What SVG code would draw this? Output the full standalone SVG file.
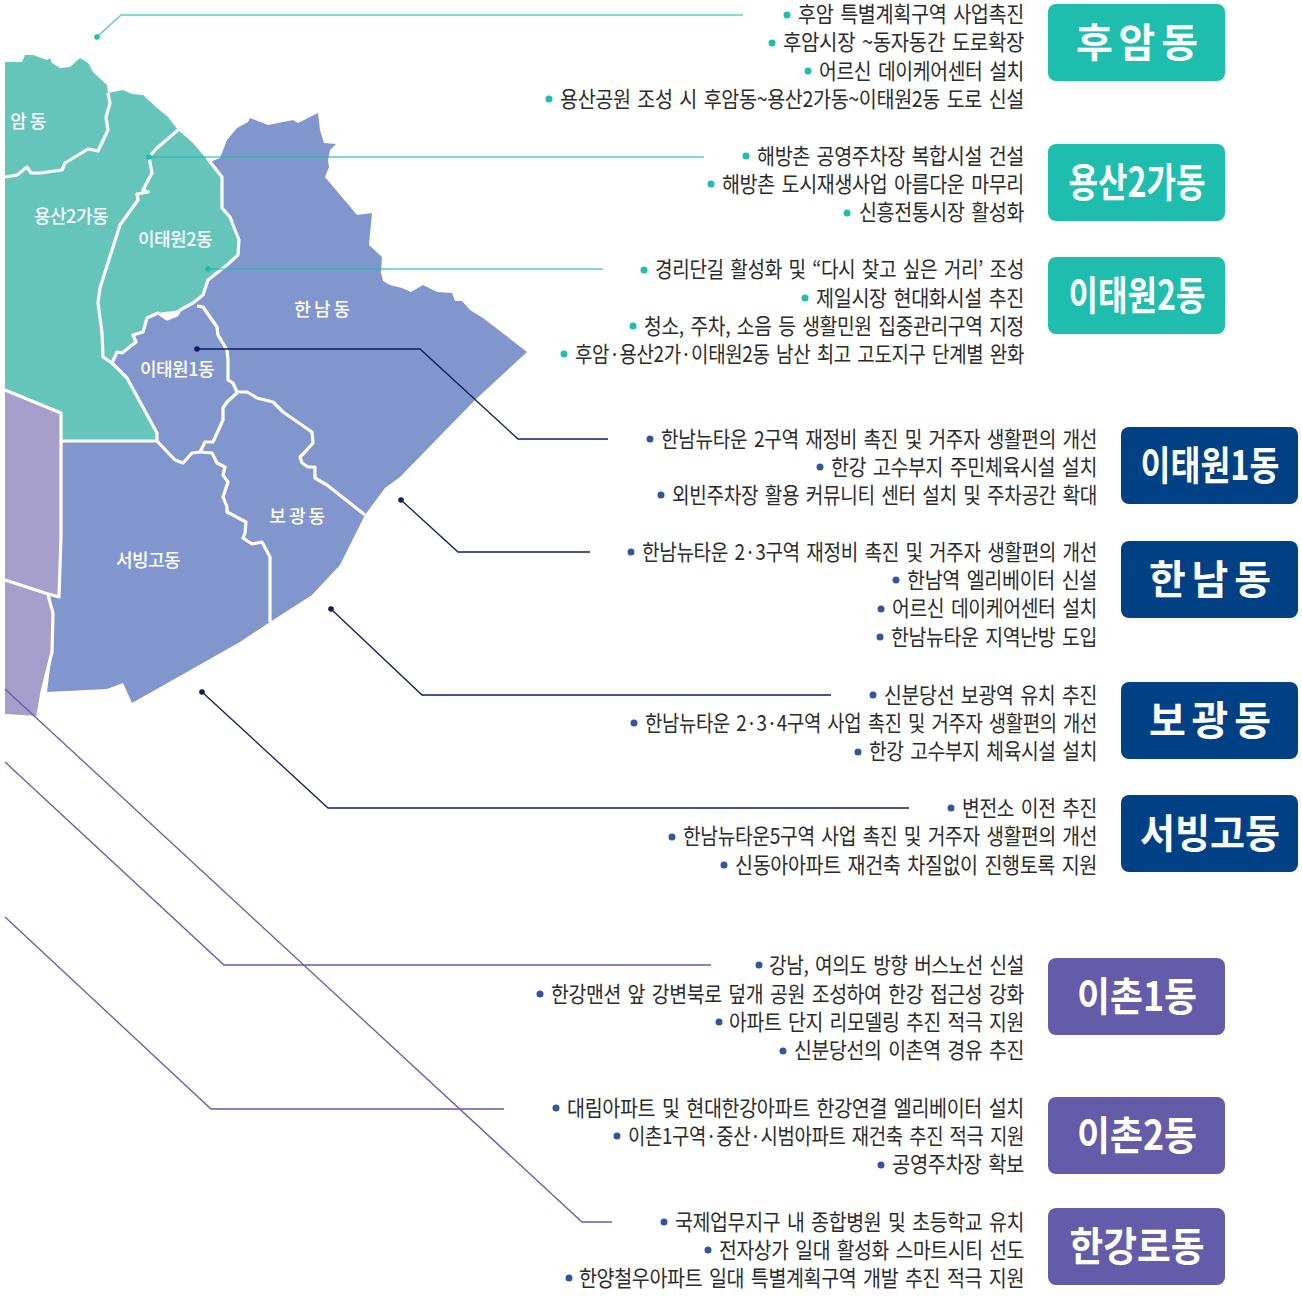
<svg xmlns="http://www.w3.org/2000/svg" width="1302" height="1300" viewBox="0 0 1302 1300">
<style>
text{font-family:"Noto Sans CJK KR","Noto Sans",sans-serif}
.t{font-size:22px;fill:#2b2b2b;letter-spacing:-.4px;word-spacing:3px}
.b{font-size:40px;font-weight:700;fill:#fff;text-anchor:middle}
.m{font-size:18px;font-weight:500;fill:#fff;text-anchor:middle;letter-spacing:-.5px}
.bd{fill:none;stroke:#fff;stroke-width:3.2;stroke-linejoin:round}
.lt{fill:none;stroke:#1ebdae;stroke-width:1.5;opacity:.75}
.ln{fill:none;stroke:#0a1f5c;stroke-width:1.3}
.lp{fill:none;stroke:#645ca9;stroke-width:1.3}
.ct{fill:#1ebdae}.cn{fill:#0a1f5c}.cb{fill:#2f55a4}
</style>
<rect width="1302" height="1300" fill="#fff"/>
<g id="map">
<path fill="#66c5ba" d="M5 62L22 62L25 55L33 55L47 60L50 58L52 63L60 68L70 67L80 58L88 63L93 72L107 85L108 93L123 90L132 94L143 95L157 108L168 117L178 130L193 143L210 163L222 177L222 208L230 217L239 240L238 255L227 265L210 277L205 292L197 307L180 310L158 313L136 342L112 363L127 378L157 433L157 441L61 441L61 413L5 390Z"/>
<path fill="#8296ce" d="M220 158L227 140L237 128L248 122L250 118L268 125L293 120L298 123L318 113L320 130L324 143L336 144L330 150L328 160L329 167L325 177L357 215L372 213L369 245L382 257L381 273L383 281L390 285L402 288L411 292L423 285L437 292L452 293L455 301L462 301L470 310L483 318L527 352L475 400L400 477L385 488L365 515L340 565L312 595L270 622L240 642L132 703L123 683L107 689L47 692L52 652L53 613L48 595L59 597L61 537L61 441L157 441L157 433L127 378L112 362L117 352L122 353L136 342L133 335L143 332L147 318L158 313L167 319L177 315L180 310L193 303L203 295L208 280L227 265L238 255L239 240L230 217L222 208L222 177L210 162Z"/>
<path fill="#a69fcc" d="M5 390L61 413L61 537L59 597L48 595L53 613L52 652L42 692L38 716L5 714Z"/>
<path class="bd" d="M5 177L17 175L27 167L31 173L40 173L62 170L65 163L88 149L98 151L108 130L106 117L110 103L108 93"/>
<path class="bd" d="M178 130L157 148L149 157L152 173L143 190L148 192L137 194L138 200L120 225L100 288L98 303L102 333L103 357L112 363L127 378L157 433V441H61"/>
<path class="bd" d="M112 363L117 352L122 353L136 342L133 335L143 332L147 318L158 313L167 319L177 315L180 310L193 303L203 295L208 280L227 265L238 255L239 240L230 217L222 208L222 177L207 158"/>
<path class="bd" d="M197 306L203 307L217 327L218 335L227 350L228 360L228 380L233 383L237 392L247 392L257 398L273 402L283 412L312 432L313 443L305 452L300 457L302 463L308 467L315 467L315 478L327 485L365 515"/>
<path class="bd" d="M237 393L227 402L223 408L223 420L213 442L205 442L200 452L192 453L183 463L175 460L157 441"/>
<path class="bd" d="M200 452L212 453L217 463L225 467L223 475L228 482L223 497L227 507L227 512L246 522L245 533L243 538L252 544L262 542L270 557V622"/>
<path class="bd" d="M5 390L61 413V537L59 597L45 593L5 580M48 595L53 613L52 652L42 692L38 716"/>
<text class="m" x="28" y="128">암 동</text>
<text class="m" x="71" y="223">용산2가동</text>
<text class="m" x="175" y="246">이태원2동</text>
<text class="m" x="322" y="316">한 남 동</text>
<text class="m" x="177" y="376">이태원1동</text>
<text class="m" x="297" y="523">보 광 동</text>
<text class="m" x="148" y="567">서빙고동</text>
</g>
<g id="connectors">
<path class="lt" d="M97 37L121 15H743"/><circle class="ct" cx="97" cy="37" r="2.8"/>
<path class="lt" d="M149 157H704"/><circle class="ct" cx="149" cy="157" r="2.8"/>
<path class="lt" d="M208 269H603"/><circle class="ct" cx="208" cy="269" r="2.8"/>
<path class="ln" d="M197 349H420L518 439H608"/><circle class="cn" cx="197" cy="349" r="2.8"/>
<path class="ln" d="M401 500L458 552H590"/><circle class="cn" cx="401" cy="500" r="2.8"/>
<path class="ln" d="M331 609L422 695H831"/><circle class="cn" cx="331" cy="609" r="2.8"/>
<path class="ln" d="M202 692L328 808H909"/><circle class="cn" cx="202" cy="692" r="2.8"/>
<path class="lp" d="M5 762L224 965H711"/>
<path class="lp" d="M5 917L211 1109H504"/>
<path class="lp" d="M5 689L582 1222H612"/>
</g>
<g id="huam">
<rect x="1048" y="4" width="177" height="77" rx="8" fill="#1ebdae"/><text class="b" x="1137" y="57" textLength="122" lengthAdjust="spacing">후 암 동</text>
<circle class="ct" cx="787" cy="15" r="3.5"/><text class="t" x="798" y="22" textLength="226" lengthAdjust="spacingAndGlyphs">후암 특별계획구역 사업촉진</text>
<circle class="ct" cx="772" cy="43" r="3.5"/><text class="t" x="783" y="50" textLength="241" lengthAdjust="spacingAndGlyphs">후암시장 ~동자동간 도로확장</text>
<circle class="ct" cx="808" cy="71" r="3.5"/><text class="t" x="819" y="78.500" textLength="205" lengthAdjust="spacingAndGlyphs">어르신 데이케어센터 설치</text>
<circle class="ct" cx="549" cy="99" r="3.5"/><text class="t" x="560" y="106.500" textLength="464" lengthAdjust="spacingAndGlyphs">용산공원 조성 시 후암동~용산2가동~이태원2동 도로 신설</text>
</g>
<g id="yongsan2">
<rect x="1048" y="144" width="177" height="77" rx="8" fill="#1ebdae"/><text class="b" x="1137" y="197" textLength="137" lengthAdjust="spacingAndGlyphs">용산2가동</text>
<circle class="ct" cx="746" cy="156" r="3.5"/><text class="t" x="757" y="163.500" textLength="267" lengthAdjust="spacingAndGlyphs">해방촌 공영주차장 복합시설 건설</text>
<circle class="ct" cx="711" cy="184" r="3.5"/><text class="t" x="722" y="191.500" textLength="302" lengthAdjust="spacingAndGlyphs">해방촌 도시재생사업 아름다운 마무리</text>
<circle class="ct" cx="847" cy="213" r="3.5"/><text class="t" x="859" y="220" textLength="165" lengthAdjust="spacingAndGlyphs">신흥전통시장 활성화</text>
</g>
<g id="itaewon2">
<rect x="1048" y="257" width="177" height="77" rx="8" fill="#1ebdae"/><text class="b" x="1137" y="310" textLength="137" lengthAdjust="spacingAndGlyphs">이태원2동</text>
<circle class="ct" cx="644" cy="270" r="3.5"/><text class="t" x="655" y="277" textLength="369" lengthAdjust="spacingAndGlyphs">경리단길 활성화 및 “다시 찾고 싶은 거리’ 조성</text>
<circle class="ct" cx="805" cy="298" r="3.5"/><text class="t" x="816" y="305.500" textLength="208" lengthAdjust="spacingAndGlyphs">제일시장 현대화시설 추진</text>
<circle class="ct" cx="633" cy="326" r="3.5"/><text class="t" x="644" y="333.500" textLength="380" lengthAdjust="spacingAndGlyphs">청소, 주차, 소음 등 생활민원 집중관리구역 지정</text>
<circle class="ct" cx="564" cy="354" r="3.5"/><text class="t" x="575" y="362" textLength="449" lengthAdjust="spacingAndGlyphs">후암·용산2가·이태원2동 남산 최고 고도지구 단계별 완화</text>
</g>
<g id="itaewon1">
<rect x="1121" y="427" width="177" height="77" rx="8" fill="#004084"/><text class="b" x="1210" y="480" textLength="139" lengthAdjust="spacingAndGlyphs">이태원1동</text>
<circle class="cb" cx="650" cy="439" r="3.5"/><text class="t" x="661" y="446.500" textLength="436" lengthAdjust="spacingAndGlyphs">한남뉴타운 2구역 재정비 촉진 및 거주자 생활편의 개선</text>
<circle class="cb" cx="820" cy="467" r="3.5"/><text class="t" x="831" y="474.500" textLength="266" lengthAdjust="spacingAndGlyphs">한강 고수부지 주민체육시설 설치</text>
<circle class="cb" cx="661" cy="495" r="3.5"/><text class="t" x="672" y="502.500" textLength="425" lengthAdjust="spacingAndGlyphs">외빈주차장 활용 커뮤니티 센터 설치 및 주차공간 확대</text>
</g>
<g id="hannam">
<rect x="1121" y="541" width="177" height="77" rx="8" fill="#004084"/><text class="b" x="1210" y="594" textLength="122" lengthAdjust="spacing">한 남 동</text>
<circle class="cb" cx="631" cy="552" r="3.5"/><text class="t" x="642" y="559.500" textLength="455" lengthAdjust="spacingAndGlyphs">한남뉴타운 2·3구역 재정비 촉진 및 거주자 생활편의 개선</text>
<circle class="cb" cx="896" cy="580" r="3.500"/><text class="t" x="907" y="587.500" textLength="190" lengthAdjust="spacingAndGlyphs">한남역 엘리베이터 신설</text>
<circle class="cb" cx="881" cy="609" r="3.5"/><text class="t" x="892" y="616" textLength="205" lengthAdjust="spacingAndGlyphs">어르신 데이케어센터 설치</text>
<circle class="cb" cx="880" cy="637" r="3.5"/><text class="t" x="891" y="644.500" textLength="206" lengthAdjust="spacingAndGlyphs">한남뉴타운 지역난방 도입</text>
</g>
<g id="bogwang">
<rect x="1121" y="682" width="177" height="77" rx="8" fill="#004084"/><text class="b" x="1210" y="735" textLength="122" lengthAdjust="spacing">보 광 동</text>
<circle class="cb" cx="873" cy="695" r="3.5"/><text class="t" x="884" y="702.500" textLength="213" lengthAdjust="spacingAndGlyphs">신분당선 보광역 유치 추진</text>
<circle class="cb" cx="634" cy="723" r="3.5"/><text class="t" x="645" y="730.500" textLength="452" lengthAdjust="spacingAndGlyphs">한남뉴타운 2·3·4구역 사업 촉진 및 거주자 생활편의 개선</text>
<circle class="cb" cx="858" cy="752" r="3.5"/><text class="t" x="869" y="759" textLength="228" lengthAdjust="spacingAndGlyphs">한강 고수부지 체육시설 설치</text>
</g>
<g id="seobinggo">
<rect x="1121" y="795" width="177" height="77" rx="8" fill="#004084"/><text class="b" x="1210" y="848" textLength="140" lengthAdjust="spacingAndGlyphs">서빙고동</text>
<circle class="cb" cx="951" cy="808" r="3.5"/><text class="t" x="962" y="815.500" textLength="135" lengthAdjust="spacingAndGlyphs">변전소 이전 추진</text>
<circle class="cb" cx="672" cy="837" r="3.5"/><text class="t" x="683" y="844" textLength="414" lengthAdjust="spacingAndGlyphs">한남뉴타운5구역 사업 촉진 및 거주자 생활편의 개선</text>
<circle class="cb" cx="724" cy="865" r="3.5"/><text class="t" x="735" y="872.500" textLength="362" lengthAdjust="spacingAndGlyphs">신동아아파트 재건축 차질없이 진행토록 지원</text>
</g>
<g id="ichon1">
<rect x="1048" y="958" width="177" height="77" rx="8" fill="#645ca9"/><text class="b" x="1137" y="1011" textLength="120" lengthAdjust="spacingAndGlyphs">이촌1동</text>
<circle class="cb" cx="759" cy="965" r="3.5"/><text class="t" x="769" y="972.500" textLength="255" lengthAdjust="spacingAndGlyphs">강남, 여의도 방향 버스노선 신설</text>
<circle class="cb" cx="540" cy="994" r="3.5"/><text class="t" x="551" y="1001.500" textLength="473" lengthAdjust="spacingAndGlyphs">한강맨션 앞 강변북로 덮개 공원 조성하여 한강 접근성 강화</text>
<circle class="cb" cx="719" cy="1022" r="3.5"/><text class="t" x="729" y="1029.500" textLength="295" lengthAdjust="spacingAndGlyphs">아파트 단지 리모델링 추진 적극 지원</text>
<circle class="cb" cx="783" cy="1051" r="3.5"/><text class="t" x="794" y="1058" textLength="230" lengthAdjust="spacingAndGlyphs">신분당선의 이촌역 경유 추진</text>
</g>
<g id="ichon2">
<rect x="1048" y="1097" width="177" height="77" rx="8" fill="#645ca9"/><text class="b" x="1137" y="1150" textLength="120" lengthAdjust="spacingAndGlyphs">이촌2동</text>
<circle class="cb" cx="556" cy="1108" r="3.5"/><text class="t" x="567" y="1115.500" textLength="457" lengthAdjust="spacingAndGlyphs">대림아파트 및 현대한강아파트 한강연결 엘리베이터 설치</text>
<circle class="cb" cx="617" cy="1136" r="3.5"/><text class="t" x="628" y="1143.500" textLength="396" lengthAdjust="spacingAndGlyphs">이촌1구역·중산·시범아파트 재건축 추진 적극 지원</text>
<circle class="cb" cx="881" cy="1165" r="3.5"/><text class="t" x="892" y="1172" textLength="132" lengthAdjust="spacingAndGlyphs">공영주차장 확보</text>
</g>
<g id="hangangro">
<rect x="1048" y="1208" width="177" height="77" rx="8" fill="#645ca9"/><text class="b" x="1137" y="1261" textLength="135" lengthAdjust="spacingAndGlyphs">한강로동</text>
<circle class="cb" cx="664" cy="1222" r="3.5"/><text class="t" x="675" y="1229.500" textLength="349" lengthAdjust="spacingAndGlyphs">국제업무지구 내 종합병원 및 초등학교 유치</text>
<circle class="cb" cx="708" cy="1250" r="3.5"/><text class="t" x="719" y="1257.500" textLength="305" lengthAdjust="spacingAndGlyphs">전자상가 일대 활성화 스마트시티 선도</text>
<circle class="cb" cx="569" cy="1278" r="3.5"/><text class="t" x="579" y="1285.500" textLength="445" lengthAdjust="spacingAndGlyphs">한양철우아파트 일대 특별계획구역 개발 추진 적극 지원</text>
</g>
</svg>
